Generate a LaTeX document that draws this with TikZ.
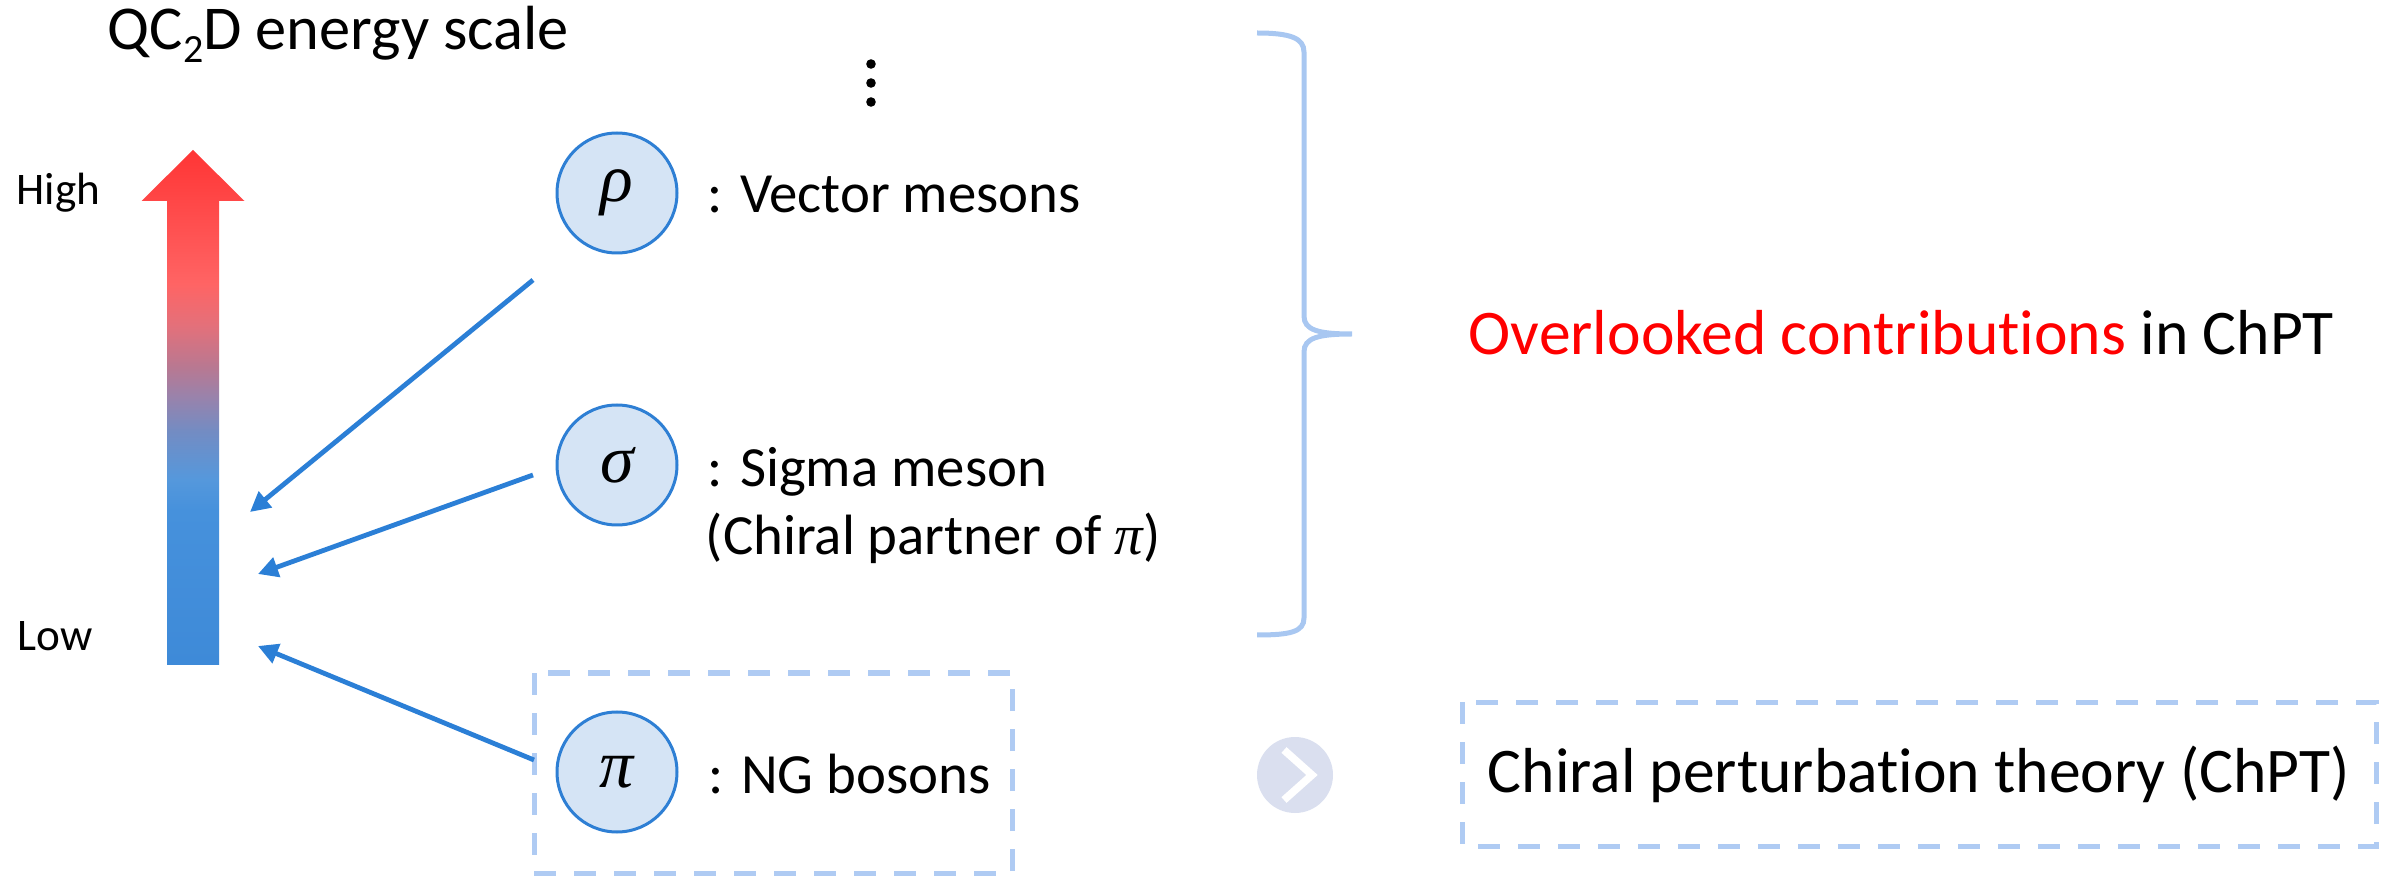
\documentclass[tikz,border=0pt]{standalone}
\usepackage{fontspec}
\setmainfont{Carlito}[Ligatures=NoCommon]
\newfontfamily\greekfont{Liberation Serif}
\usetikzlibrary{arrows.meta}

\definecolor{circfill}{HTML}{D5E4F5}
\definecolor{circdraw}{HTML}{2E7FD4}
\definecolor{connblue}{HTML}{2B7FD6}
\definecolor{dashblue}{HTML}{AFCBF3}
\definecolor{braceblue}{HTML}{A8C7F1}
\definecolor{chevfill}{HTML}{DADFEF}
\definecolor{lowblue}{RGB}{62,138,216}
\definecolor{midblueA}{RGB}{70,145,220}
\definecolor{midblueB}{RGB}{85,152,220}
\definecolor{midblueC}{RGB}{115,140,195}
\definecolor{midpurple}{RGB}{155,130,170}
\definecolor{midmauve}{RGB}{185,120,145}
\definecolor{midrose}{RGB}{228,112,122}
\definecolor{lightred}{RGB}{255,100,100}
\definecolor{highred}{RGB}{255,53,53}

% energy-scale gradient, bottom (blue) to top (red)
\pgfdeclareverticalshading{energyscale}{100bp}{%
  color(0bp)=(lowblue); color(25bp)=(lowblue);
  color(40bp)=(midblueA); color(43bp)=(midblueB);
  color(47.7bp)=(midblueC); color(51.2bp)=(midpurple);
  color(54bp)=(midmauve); color(58bp)=(midrose);
  color(62bp)=(lightred); color(75bp)=(highred); color(100bp)=(highred)}

\newcommand{\gk}[1]{{\greekfont\itshape #1}}

\begin{document}
\begin{tikzpicture}[x=0.25pt,y=-0.25pt,
  particle/.style={circle, draw=circdraw, line width=0.75pt, fill=circfill,
    minimum size=30pt, inner sep=0pt, font=\fontsize{17}{20}\selectfont},
  lbl/.style={anchor=base west, inner sep=0pt, font=\fontsize{14.2}{17}\selectfont},
  biglbl/.style={anchor=base west, inner sep=0pt, font=\fontsize{15.9}{19}\selectfont},
  scalelbl/.style={anchor=base west, inner sep=0pt, font=\fontsize{11.3}{14}\selectfont},
  conn/.style={draw=connblue, line width=1.2pt,
    -{Triangle[length=5pt,width=5pt]}},
  dashbox/.style={draw=dashblue, line width=1.25pt, dash pattern=on 5.5pt off 4.5pt},
]
\useasboundingbox (0,0) rectangle (2392,877);

% title and scale labels
\node[anchor=base west, inner sep=0pt, font=\fontsize{15.6}{19}\selectfont] (title) at (107,50)
  {QC\raisebox{-3.2pt}{\fontsize{10}{12}\selectfont 2}D energy scale};
\node[scalelbl] (high) at (16,205) {High};
\node[scalelbl] (low) at (17,651) {Low};

% energy arrow
\shade[shading=energyscale]
  (193,150) -- (244.5,201) -- (219,201) -- (219,665) -- (167,665)
  -- (167,201) -- (141.5,201) -- cycle;

% vertical ellipsis
\foreach \yy in {64,83,102} \fill (871,\yy) circle (1.2pt);

% particles
\node[particle] (rho) at (617,193) {\gk{ρ}};
\node[particle] (sigma) at (617,465) {\gk{σ}};
\node[particle] (pi) at (617,772) {\gk{π}};

\node[lbl] (rholbl) at (707,213) {: Vector mesons};
\node[lbl] (sigmalbl) at (707,486) {: Sigma meson};
\node[lbl] (sigmalbl2) at (705,555) {(Chiral partner of \gk{π})};
\node[lbl] (pilbl) at (708,793) {: NG bosons};

% dashed frame round the pion
\draw[dashbox] (534,673) rectangle (1012,873);

% connectors into the energy scale
\coordinate (rhoTail) at (533,280);
\coordinate (sigmaTail) at (533,475);
\coordinate (piTail) at (534,760);
\coordinate (rhoTip) at (250,512);
\coordinate (sigmaTip) at (258,574);
\coordinate (piTip) at (258,646);
\draw[conn] (rhoTail) -- (rhoTip);
\draw[conn] (sigmaTail) -- (sigmaTip);
\draw[conn] (piTail) -- (piTip);

% brace over rho and sigma
\draw[braceblue, line width=1.25pt]
  (1257,33) .. controls (1290,33) and (1304,38) .. (1304,52)
  -- (1304,316) .. controls (1304,330) and (1318,334) .. (1352,334)
  .. controls (1318,334) and (1304,338) .. (1304,352)
  -- (1304,618) .. controls (1304,632) and (1290,635) .. (1257,635);

\node[biglbl] (overlooked) at (1468,355)
  {\textcolor{red}{Overlooked contributions} in ChPT};

% chevron marker
\node[circle, fill=chevfill, minimum size=19pt, inner sep=0pt] (chev) at (1295,775) {};
\draw[white, line width=1.9pt] (1284,750) -- (1312,775) -- (1284,800);

% ChPT box
\draw[dashbox] (1462,702) rectangle (2376,846);
\node[biglbl] (chpt) at (1487,792) {Chiral perturbation theory (ChPT)};
\end{tikzpicture}
\end{document}
